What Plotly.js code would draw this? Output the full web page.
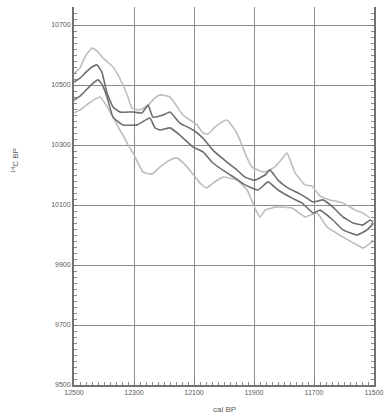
<!DOCTYPE html>
<html>
<head>
<meta charset="utf-8">
<script src="https://cdn.plot.ly/plotly-3.0.1.min.js"></script>
<style>html,body{margin:0;padding:0;background:#fff;}#chart{width:385px;height:415px;}</style>
</head>
<body>
<div id="chart"></div>
<script>
// Upper light envelope
var ulYears = [12500,12480,12460,12440,12420,12403,12370,12353,12337,12320,12307,12280,12253,12230,12213,12180,12137,12113,12090,12070,12053,12033,12013,11990,11963,11947,11930,11907,11887,11863,11830,11810,11790,11763,11730,11707,11680,11647,11603,11563,11537,11513];
var ulC14 = [10537,10557,10600,10623,10610,10590,10560,10533,10500,10460,10423,10417,10433,10457,10467,10460,10400,10383,10367,10340,10337,10357,10373,10383,10350,10317,10273,10227,10217,10210,10227,10250,10273,10207,10167,10163,10130,10117,10107,10083,10073,10057];
// Upper dark curve
var udYears = [12500,12480,12460,12440,12423,12407,12390,12370,12347,12303,12273,12253,12237,12203,12180,12147,12103,12070,12037,11990,11957,11930,11897,11863,11847,11820,11787,11753,11730,11703,11670,11637,11603,11570,11537,11513,11503];
var udC14 = [10510,10523,10543,10560,10567,10543,10473,10427,10410,10410,10407,10433,10393,10400,10410,10373,10350,10323,10283,10243,10217,10193,10183,10200,10217,10183,10157,10140,10127,10110,10117,10093,10060,10040,10033,10050,10043];
// Lower dark curve
var ldYears = [12500,12480,12460,12440,12420,12407,12390,12370,12337,12290,12247,12230,12213,12180,12147,12103,12070,12037,11990,11963,11930,11887,11853,11820,11773,11740,11703,11680,11637,11603,11557,11523,11503];
var ldC14 = [10450,10463,10483,10503,10517,10503,10460,10393,10367,10367,10390,10357,10350,10357,10333,10293,10277,10240,10207,10190,10167,10150,10177,10150,10123,10107,10073,10083,10050,10017,10000,10017,10037];
// Lower light envelope
var llYears = [12500,12480,12453,12430,12413,12393,12370,12347,12323,12303,12270,12240,12213,12180,12157,12123,12080,12057,12037,12003,11957,11923,11897,11880,11863,11830,11773,11730,11690,11657,11603,11557,11537,11513,11503];
var llC14 = [10407,10417,10437,10453,10460,10433,10393,10350,10307,10273,10210,10203,10227,10250,10257,10227,10173,10157,10173,10193,10183,10150,10090,10060,10083,10093,10090,10060,10073,10027,9993,9967,9957,9973,9983];

var xTicks = [12500,12300,12100,11900,11700,11500];
var yTicks = [9500,9700,9900,10100,10300,10500,10700];

var light = '#bdbdbd', dark = '#6e6e6e';
function tr(x, y, c) {
  return {x: x, y: y, type: 'scatter', mode: 'lines', line: {color: c, width: 1.6, shape: 'spline', smoothing: 0.4}, hoverinfo: 'skip'};
}
var data = [
  tr(ulYears, ulC14, light),
  tr(llYears, llC14, light),
  tr(udYears, udC14, dark),
  tr(ldYears, ldC14, dark)
];

var tickFont = {family: 'Liberation Sans, Arial, sans-serif', size: 7, color: '#5a5a5a'};
var layout = {
  width: 385, height: 415,
  margin: {l: 74, r: 11, t: 7, b: 30},
  paper_bgcolor: '#fff', plot_bgcolor: '#fff',
  showlegend: false,
  xaxis: {
    range: [12500, 11500], tickvals: xTicks, ticktext: xTicks.map(String),
    showgrid: true, gridcolor: '#8c8c8c', gridwidth: 1,
    showline: true, linecolor: '#737373', linewidth: 2, mirror: false,
    ticks: 'inside', ticklen: 3, tickcolor: '#737373',
    minor: {dtick: 20, ticks: 'inside', ticklen: 3, tickcolor: '#8a8a8a', showgrid: false},
    tickfont: tickFont, zeroline: false
  },
  yaxis: {
    range: [9500, 10760], tickvals: yTicks, ticktext: yTicks.map(String),
    showgrid: true, gridcolor: '#8c8c8c', gridwidth: 1,
    showline: true, linecolor: '#737373', linewidth: 2, mirror: 'ticks',
    ticks: 'inside', ticklen: 3, tickcolor: '#737373',
    minor: {dtick: 20, ticks: 'inside', ticklen: 3, tickcolor: '#8a8a8a', showgrid: false},
    tickfont: tickFont, zeroline: false
  },
  annotations: [
    {text: '<sup>14</sup>C BP', xref: 'paper', yref: 'paper', x: -0.197, y: 0.595, textangle: -90,
     showarrow: false, xanchor: 'center', yanchor: 'middle', font: {family: 'Liberation Sans, Arial, sans-serif', size: 8, color: '#5a5a5a'}},
    {text: 'cal BP', xref: 'paper', yref: 'paper', x: 0.5, y: -0.066,
     showarrow: false, xanchor: 'center', yanchor: 'middle', font: {family: 'Liberation Sans, Arial, sans-serif', size: 8, color: '#5a5a5a'}}
  ]
};
Plotly.newPlot('chart', data, layout, {staticPlot: true, displayModeBar: false});
</script>
</body>
</html>
